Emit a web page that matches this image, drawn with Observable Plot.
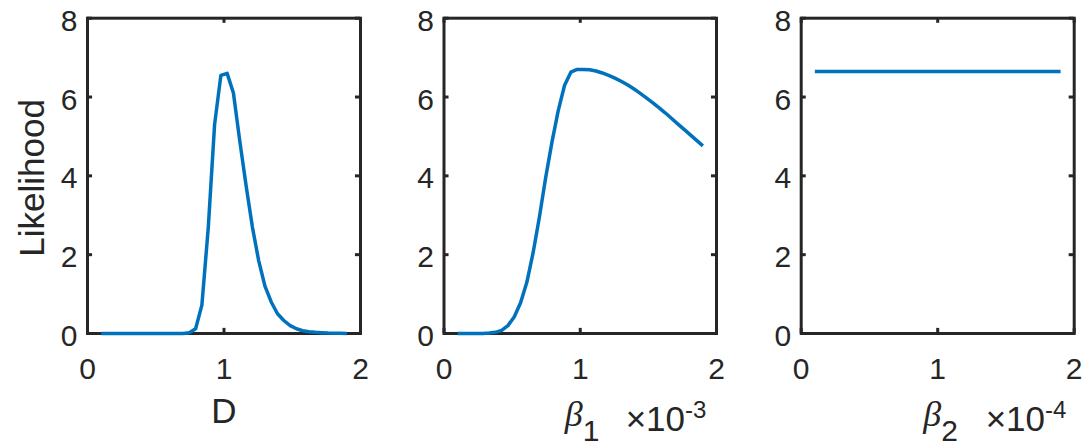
<!DOCTYPE html>
<html>
<head>
<meta charset="utf-8">
<script src="https://cdn.jsdelivr.net/npm/d3@7"></script>
<script src="https://cdn.jsdelivr.net/npm/@observablehq/plot@0.6"></script>
<style>
  html, body { margin: 0; padding: 0; background: #ffffff; }
  #fig { display: flex; width: 1089px; height: 448px; overflow: hidden; }
  #fig svg { display: block; flex: none; }
</style>
</head>
<body>
<div id="fig"></div>
<script>
// ---- data (x in display units: D, beta1 / 1e-3, beta2 / 1e-4) ----
const gridX = [0.100, 0.146, 0.192, 0.238, 0.285, 0.331, 0.377, 0.423, 0.469, 0.515,
               0.562, 0.608, 0.654, 0.700, 0.746, 0.792, 0.838, 0.885, 0.931, 0.977,
               1.023, 1.069, 1.115, 1.162, 1.208, 1.254, 1.300, 1.346, 1.392, 1.438,
               1.485, 1.531, 1.577, 1.623, 1.669, 1.715, 1.762, 1.808, 1.854, 1.900];

const likeD = [0, 0, 0, 0, 0, 0, 0, 0, 0, 0,
               0, 0, 0, 0, 0.02, 0.12, 0.72, 2.7, 5.3, 6.55,
               6.6, 6.1, 4.9, 3.75, 2.7, 1.85, 1.2, 0.8, 0.5, 0.33,
               0.2, 0.12, 0.07, 0.045, 0.03, 0.02, 0.012, 0.008, 0.005, 0.003];

const likeBeta1 = [0, 0, 0, 0.001, 0.003, 0.01, 0.03, 0.08, 0.2, 0.42,
                   0.78, 1.3, 2.05, 2.95, 3.95, 4.85, 5.65, 6.3, 6.63, 6.7,
                   6.7, 6.69, 6.66, 6.61, 6.55, 6.48, 6.4, 6.31, 6.21, 6.1,
                   5.98, 5.86, 5.73, 5.6, 5.46, 5.32, 5.18, 5.04, 4.9, 4.76];

const likeBeta2 = [6.65, 6.65, 6.65, 6.65, 6.65, 6.65, 6.65, 6.65, 6.65, 6.65,
                   6.65, 6.65, 6.65, 6.65, 6.65, 6.65, 6.65, 6.65, 6.65, 6.65,
                   6.65, 6.65, 6.65, 6.65, 6.65, 6.65, 6.65, 6.65, 6.65, 6.65,
                   6.65, 6.65, 6.65, 6.65, 6.65, 6.65, 6.65, 6.65, 6.65, 6.65];

const xTicks = [0, 1, 2];
const yTicks = [0, 2, 4, 6, 8];
const yLabel = "Likelihood";
const xLabelD = "D";
const betaSymbol = "β";
const betaSubs = ["1", "2"];
const expBase = "×10";
const expPowers = ["-3", "-4"];

// ---- style ----
const FONT = "'Liberation Sans', Arial, Helvetica, sans-serif";
const SERIF = "'Liberation Serif', 'Times New Roman', serif";
const INK = "#262626";
const BLUE = "#0072BD";
const TICK_FS = 30, LABEL_FS = 35;
const fmt = d => String(d);

function panel({xs, ys, width, ml, mr, extra}) {
  const rows = xs.map((x, i) => ({x, y: ys[i]}));
  return Plot.plot({
    width, height: 448,
    marginLeft: ml, marginRight: mr, marginTop: 17.7, marginBottom: 115,
    style: {fontFamily: FONT, color: INK, background: "transparent", overflow: "visible"},
    x: {domain: [0, 2]},
    y: {domain: [0, 8]},
    marks: [
      Plot.frame({stroke: INK, strokeWidth: 3}),
      // inward ticks on all four sides (MATLAB box style)
      Plot.ruleX(xTicks, {x: d => d, y1: 0, y2: 0.13, stroke: INK, strokeWidth: 3}),
      Plot.ruleX(xTicks, {x: d => d, y1: 8, y2: 7.87, stroke: INK, strokeWidth: 3}),
      Plot.ruleY(yTicks, {y: d => d, x1: 0, x2: 0.037, stroke: INK, strokeWidth: 3}),
      Plot.ruleY(yTicks, {y: d => d, x1: 2, x2: 1.963, stroke: INK, strokeWidth: 3}),
      Plot.axisX({ticks: xTicks, tickFormat: fmt, tickSize: 0, tickPadding: 24, fontSize: TICK_FS, label: null}),
      Plot.axisY({ticks: yTicks, tickFormat: fmt, tickSize: 0, tickPadding: 10, fontSize: TICK_FS, label: null, dy: 3}),
      Plot.line(rows, {x: "x", y: "y", stroke: BLUE, strokeWidth: 3.5, strokeLinecap: "butt", strokeLinejoin: "round"}),
      ...extra
    ]
  });
}

function betaLabel(idx, dxJoin, dxExp) {
  return [
    Plot.text([betaSymbol], {text: d => d, frameAnchor: "bottom", dx: dxJoin, dy: 92,
      textAnchor: "end", lineAnchor: "bottom", fontSize: 36, fontStyle: "italic", fontFamily: SERIF, fill: INK}),
    Plot.text([betaSubs[idx]], {text: d => d, frameAnchor: "bottom", dx: dxJoin, dy: 107,
      textAnchor: "start", lineAnchor: "bottom", fontSize: TICK_FS, fill: INK}),
    Plot.text([expBase], {text: d => d, frameAnchor: "bottom-right", dx: dxExp, dy: 97,
      textAnchor: "end", lineAnchor: "bottom", fontSize: LABEL_FS, fill: INK}),
    Plot.text([expPowers[idx]], {text: d => d, frameAnchor: "bottom-right", dx: dxExp, dy: 84,
      textAnchor: "start", lineAnchor: "bottom", fontSize: 24, fill: INK})
  ];
}

const fig = document.getElementById("fig");

fig.append(panel({
  xs: gridX, ys: likeD, width: 400, ml: 87, mr: 40,
  extra: [
    Plot.text([xLabelD], {text: d => d, frameAnchor: "bottom", dy: 89,
      lineAnchor: "bottom", fontSize: LABEL_FS, fill: INK}),
    Plot.text([yLabel], {text: d => d, frameAnchor: "left", dx: -44, dy: 2, rotate: -90,
      textAnchor: "middle", lineAnchor: "bottom", fontSize: LABEL_FS, fill: INK})
  ]
}));

fig.append(panel({
  xs: gridX, ys: likeBeta1, width: 360, ml: 43.5, mr: 44,
  extra: betaLabel(0, 2.5, -31.5)
}));

fig.append(panel({
  xs: gridX, ys: likeBeta2, width: 329, ml: 40.7, mr: 15.3,
  extra: betaLabel(1, 3.5, -29.2)
}));
</script>
</body>
</html>
